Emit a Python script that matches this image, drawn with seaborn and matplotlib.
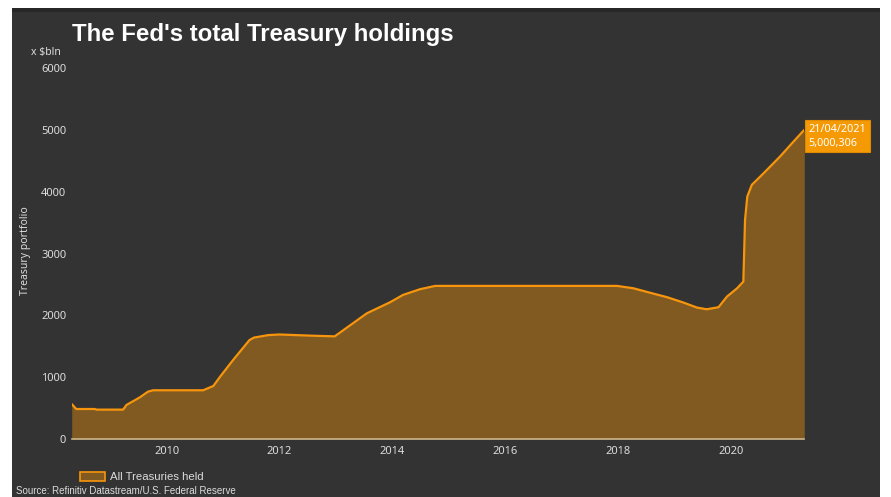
import numpy as np
import pandas as pd
import seaborn as sns
import matplotlib.pyplot as plt
from matplotlib.patches import Rectangle, Patch

sns.set_style('dark')

# DATA (decimal years / $bln)
years = [2008.32, 2008.40, 2008.73, 2008.76, 2009.23, 2009.29, 2009.53, 2009.67,
         2009.76, 2010.65, 2010.83, 2010.95, 2011.18, 2011.47, 2011.55, 2011.80,
         2012.00, 2012.30, 2012.60, 2012.98, 2013.55, 2013.96, 2014.19, 2014.49,
         2014.76, 2017.98, 2018.27, 2018.56, 2018.87, 2019.16, 2019.40, 2019.57,
         2019.78, 2019.93, 2020.11, 2020.22, 2020.25, 2020.29, 2020.37, 2020.58,
         2020.87, 2021.11, 2021.30]
holdings = [566, 485, 485, 475, 475, 550, 675, 765,
            788, 788, 858, 1008, 1278, 1600, 1640, 1680,
            1690, 1680, 1670, 1660, 2033, 2211, 2330, 2422,
            2476, 2476, 2438, 2367, 2293, 2206, 2125, 2098,
            2131, 2303, 2438, 2545, 3544, 3921, 4110, 4299,
            4568, 4811, 5000]
x_ticks = [2010, 2012, 2014, 2016, 2018, 2020]
y_ticks = [0, 1000, 2000, 3000, 4000, 5000, 6000]
last_label = '21/04/2021\n5,000,306'

df = pd.DataFrame({'year': years, 'held': holdings})

BG = '#333333'
FILL = '#815a21'
LINE = '#f7960c'
TXT = '#dcdcdc'

W, H = 891, 497
fig = plt.figure(figsize=(W / 100, H / 100), dpi=100)
fig.patch.set_facecolor('white')

# dark panel behind everything
fig.patches.append(Rectangle((12 / W, 0), (880 - 12) / W, 1 - 8 / H,
                             transform=fig.transFigure, facecolor=BG,
                             edgecolor='none', zorder=-2))
fig.patches.append(Rectangle((12 / W, 1 - 12 / H), (880 - 12) / W, 4 / H,
                             transform=fig.transFigure, facecolor='#272727',
                             edgecolor='none', zorder=-1))

ax = fig.add_axes([71.7 / W, 1 - 439 / H, (804.3 - 71.7) / W, (439 - 68) / H])
ax.set_facecolor('none')

ax.fill_between(df['year'], df['held'], 0, color=FILL, linewidth=0)
sns.lineplot(data=df, x='year', y='held', ax=ax, color=LINE, linewidth=1.6)

ax.set_xlim(years[0], years[-1])
ax.set_ylim(0, 6000)
ax.set_xticks(x_ticks)
ax.set_xticklabels([str(t) for t in x_ticks])
ax.set_yticks(y_ticks)
ax.set_yticklabels([str(t) for t in y_ticks])
ax.tick_params(axis='both', length=0, colors=TXT, labelsize=8, pad=5)
for lab in ax.get_xticklabels() + ax.get_yticklabels():
    lab.set_family('Noto Sans')
ax.tick_params(axis='y', pad=4)
ax.grid(False)
ax.set_xlabel('')
ax.set_ylabel('')
for s in ['top', 'right', 'left']:
    ax.spines[s].set_visible(False)
ax.spines['bottom'].set_color('#c9b38e')
ax.spines['bottom'].set_linewidth(1.2)

# last value marker box
ax.annotate(last_label, xy=(years[-1], holdings[-1]), xytext=(3, 4),
            textcoords='offset points', ha='left', va='top',
            fontsize=7.8, family='Noto Sans', color='white', linespacing=1.3,
            bbox=dict(boxstyle='square,pad=0.35', facecolor='#f59a05',
                      edgecolor='#e08a00', linewidth=0.8),
            annotation_clip=False)

# titles and labels
fig.text(72 / W, 1 - 35 / H, "The Fed's total Treasury holdings",
         family='Liberation Sans', fontweight='bold', fontsize=17.3,
         color='white', va='center', ha='left')
fig.text(31 / W, 1 - 52 / H, 'x $bln', family='Noto Sans', fontsize=7.5,
         color=TXT, va='center', ha='left')
fig.text(26 / W, 1 - 251 / H, 'Treasury portfolio', family='Noto Sans',
         fontsize=7.5, color=TXT, rotation=90, va='center', ha='center')

# legend
leg_handle = Patch(facecolor=FILL, edgecolor=LINE, linewidth=1.2)
leg = fig.legend([leg_handle], ['All Treasuries held'], loc='center left',
                 bbox_to_anchor=(70 / W, 1 - 477 / H), frameon=False,
                 handlelength=2.2, handleheight=0.8, handletextpad=0.4,
                 prop={'family': 'Liberation Sans', 'size': 8.2})
for t in leg.get_texts():
    t.set_color(TXT)

fig.text(16 / W, 1 - 491 / H, 'Source: Refinitiv Datastream/U.S. Federal Reserve',
         family='Liberation Sans', fontsize=7, color=TXT, va='center', ha='left')

fig.savefig('out.png', dpi=100, facecolor=fig.get_facecolor())
